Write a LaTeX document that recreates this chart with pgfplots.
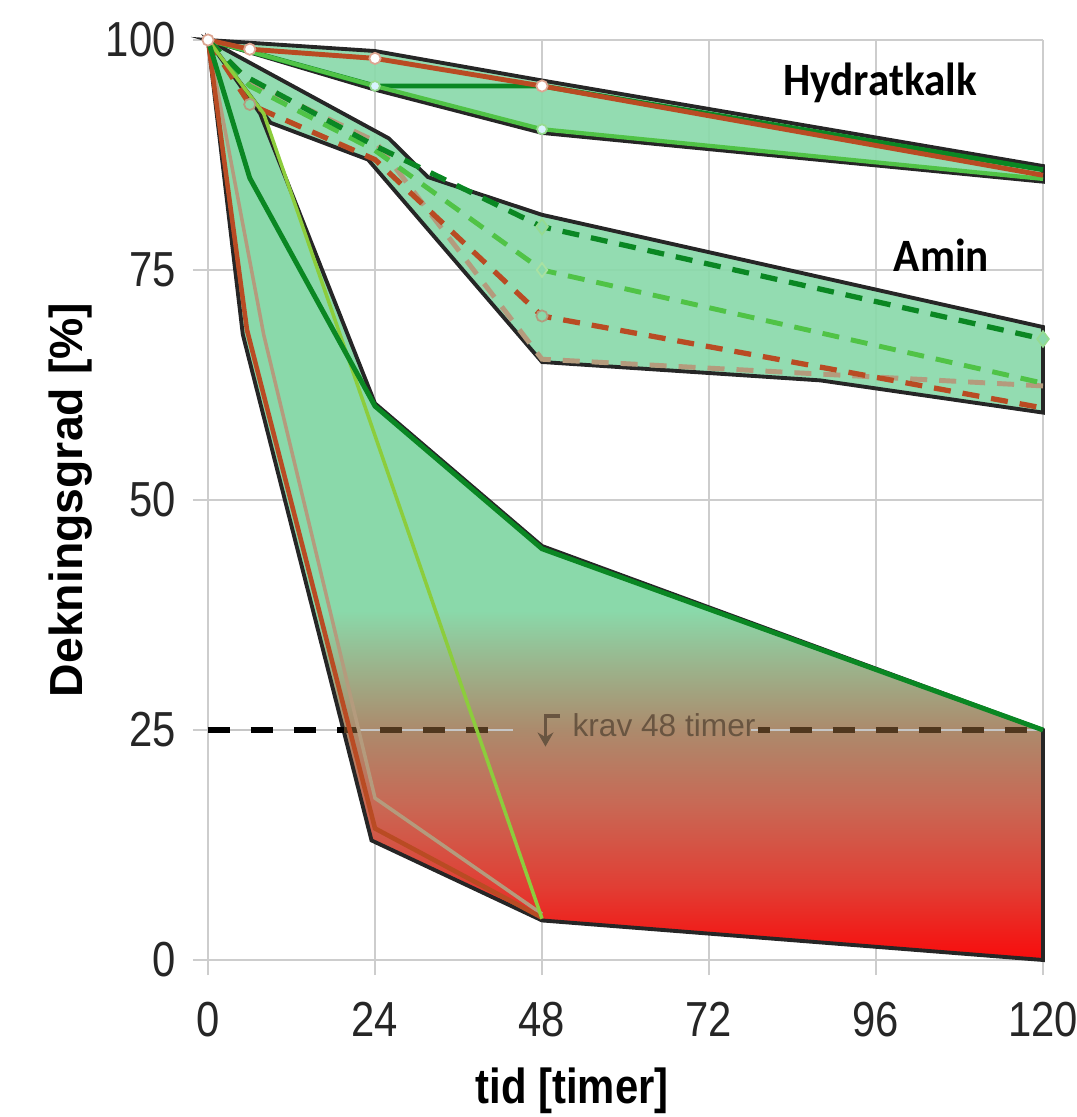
\documentclass[border=0pt]{standalone}
\usepackage{fontspec}
\setmainfont{Liberation Sans}[FakeStretch=0.85]
\newfontfamily\ylabfont{Liberation Sans}
\newfontfamily\plainfont{Liberation Sans}
\newfontfamily\calfont{Carlito}[FakeStretch=0.93]
\usepackage{pgfplots}
\pgfplotsset{compat=1.18}
\usetikzlibrary{arrows.meta}

\definecolor{gridgray}{RGB}{205,205,205}
\definecolor{bandgreen}{RGB}{138,217,170}
\definecolor{dkgreen}{RGB}{10,135,35}
\definecolor{ltgreen}{RGB}{80,195,70}
\definecolor{ygreen}{RGB}{140,205,60}
\definecolor{brownred}{RGB}{185,75,35}
\definecolor{tan}{RGB}{180,155,125}
\definecolor{dashbrown}{RGB}{80,55,30}
\definecolor{kravtext}{RGB}{105,85,65}
\definecolor{sA}{RGB}{248,12,12}
\definecolor{sB}{RGB}{240,30,26}
\definecolor{sC}{RGB}{225,62,52}
\definecolor{sD}{RGB}{200,105,85}
\definecolor{sE}{RGB}{172,138,108}
\definecolor{sF}{RGB}{155,180,140}

% shading of the lower band: bbox y=0..100 maps to 25bp..75bp
\pgfdeclareverticalshading{band}{100bp}{color(0bp)=(sA); color(25bp)=(sA);
  color(26.5bp)=(sB); color(29bp)=(sC); color(33.5bp)=(sD); color(37.5bp)=(sE);
  color(41bp)=(sF); color(44bp)=(bandgreen); color(100bp)=(bandgreen)}

\begin{document}
\begin{tikzpicture}
\begin{axis}[
  name=ax,
  scale only axis, width=8.35cm, height=9.2cm,
  xmin=0, xmax=120, ymin=0, ymax=100,
  xtick={0,24,...,120}, ytick={0,25,...,100},
  grid=major, major grid style={draw=gridgray, line width=0.7pt},
  axis line style={draw=none},
  tick align=outside, tick pos=left, major tick length=0.15cm,
  major tick style={draw=gridgray, line width=0.7pt},
  /pgf/number format/assume math mode=true,
  tick label style={font=\fontsize{14}{16}\selectfont, text=black!85},
  yticklabel style={xshift=-0.05cm},
  xticklabel style={yshift=-0.15cm},
  xlabel={tid [timer]},
  ylabel={Dekningsgrad [\%]},
  xlabel style={font=\bfseries\fontsize{14}{16}\selectfont,
    at={(axis description cs:0.436,-0.142)}, anchor=center},
  ylabel style={font=\ylabfont\bfseries\fontsize{13.2}{16}\selectfont,
    at={(axis description cs:-0.165,0.5)}, anchor=center},
  clip=false,
]

% --- bands ---
\addplot[draw=black!85, line width=1.1pt, fill=bandgreen, fill opacity=0.92]
  coordinates {(0,100) (24,98.8) (48,95.6) (120,86.3) (120,84.6) (48,89.9) (24,94.6)} -- cycle;
\addplot[draw=black!85, line width=1.1pt, fill=bandgreen, fill opacity=0.92]
  coordinates {(0,100) (26,89.3) (31.6,85.1) (48,81) (120,68.8) (120,59.5) (88,63) (48,65) (23,87) (9,91)} -- cycle;
\addplot[draw=black!85, line width=1.1pt, shade, shading=band]
  coordinates {(0,100) (7.5,92) (24,60.5) (48,45) (120,25) (120,0) (48,4.3) (23.5,13) (5,68)} -- cycle;

% --- requirement line at 25 % ---
\addplot[draw=gray!45, line width=0.5pt] coordinates {(0,25) (43.8,25)};
\addplot[draw=gray!45, line width=0.5pt] coordinates {(78,25) (120,25)};
\addplot[draw=dashbrown, line width=1.7pt, dash pattern=on 0.22cm off 0.21cm] coordinates {(0,25) (42,25)};
\addplot[draw=black, line width=1.7pt, dash pattern=on 0.22cm off 0.21cm] coordinates {(0,25) (19.5,25)};
\addplot[draw=dashbrown, line width=1.7pt, dash pattern=on 0.12cm off 0.2cm on 0.22cm off 0.21cm on 0.22cm off 0.21cm on 0.22cm off 0.21cm on 0.22cm off 0.21cm on 0.22cm off 0.21cm on 0.22cm off 0.21cm] coordinates {(79,25) (120,25)};

% --- Hydratkalk ---
\addplot[dkgreen, line width=1.4pt] coordinates {(0,100) (24,95) (48,95) (120,85.9)};
\addplot[ltgreen, line width=1.2pt, mark=*, mark size=1.4pt, mark options={fill=cyan!15, draw=ltgreen!60, line width=0.5pt}, mark indices={2,3}]
  coordinates {(0,100) (24,95) (48,90.3) (120,84.9)};
\addplot[brownred, line width=1.4pt, mark=*, mark size=1.6pt, mark options={fill=white, draw=brownred!50, line width=0.5pt}, mark indices={1,2,3,4}]
  coordinates {(0,100) (6,99) (24,98) (48,95) (120,85.3)};

% --- Amin ---
\addplot[tan, line width=1.4pt, dash pattern=on 0.17cm off 0.12cm] coordinates {(0,100) (6,95.5) (24,89) (48,65.3) (120,62.4)};
\addplot[ltgreen, line width=1.4pt, dash pattern=on 0.17cm off 0.12cm, mark=diamond*, mark size=2pt, mark options={solid, fill=bandgreen, draw=ltgreen!50, line width=0.5pt}, mark indices={4}]
  coordinates {(0,100) (6,95) (24,88) (48,75) (120,62.7)};
\addplot[dkgreen, line width=1.5pt, dash pattern=on 0.17cm off 0.12cm, mark=diamond*, mark size=2.2pt, mark options={solid, fill=bandgreen, draw=ltgreen!60, line width=0.5pt}, mark indices={4,5}]
  coordinates {(0,100) (5,96.2) (24,88.5) (48,79.7) (120,67.5)};
\addplot[brownred, line width=1.5pt, dash pattern=on 0.17cm off 0.12cm, mark=*, mark size=1.6pt, mark options={solid, fill=bandgreen, draw=tan, line width=0.5pt}, mark indices={2,4}]
  coordinates {(0,100) (6,93) (24,87) (48,70) (120,60)};

% --- lower band ---
\addplot[tan, line width=1pt] coordinates {(0,100) (8,68) (24,17.6) (48,5)};
\addplot[brownred, line width=1.3pt] coordinates {(0,100) (5.6,68.5) (24,14.3) (48,4.6)};
\addplot[ygreen, line width=1pt] coordinates {(0,100) (8,92) (48,4.5)};
\addplot[dkgreen, line width=1.4pt] coordinates {(0,100) (6,85) (24,60.2) (48,44.7) (120,25)};

% --- annotations ---
\node[font=\calfont\bfseries\fontsize{13.2}{15}\selectfont, anchor=base] at (axis cs:96.6,94.0) {Hydratkalk};
\node[font=\calfont\bfseries\fontsize{13.2}{15}\selectfont, anchor=base] at (axis cs:105.4,74.8) {Amin};
\draw[kravtext, line width=1.1pt, -{Stealth[length=4pt,width=4.5pt]}] (axis cs:50.6,26.5) -- (axis cs:48.5,26.5) -- (axis cs:48.5,23.2);
\node[font=\plainfont\fontsize{9}{10}\selectfont, text=kravtext, anchor=west, inner sep=0pt] at (axis cs:52.3,25.5) {krav 48 timer};
\end{axis}
\pgfresetboundingbox
\path[use as bounding box] ([xshift=-2.08cm,yshift=-1.57cm]ax.south west) rectangle ([xshift=0.33cm,yshift=0.40cm]ax.north east);
\end{tikzpicture}
\end{document}
